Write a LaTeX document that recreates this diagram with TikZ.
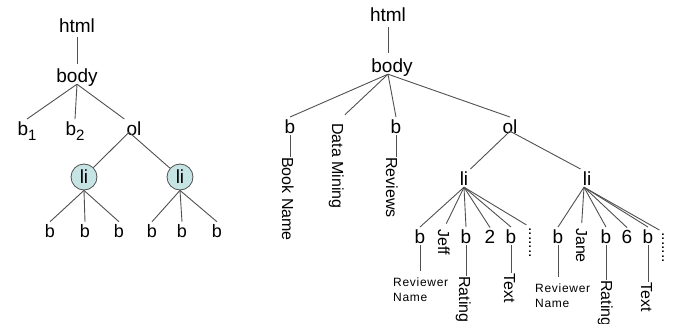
\documentclass[tikz,border=0pt]{standalone}
\usepackage{fontspec}
\setmainfont{Liberation Sans}
\definecolor{licol}{RGB}{198,228,228}
\definecolor{edgecol}{RGB}{80,80,80}
\newcommand\mysubs[1]{\raisebox{-5pt}{\fontsize{15}{15}\selectfont #1}}
\begin{document}
\begin{tikzpicture}[x=1pt,y=-1pt,
  lbl/.style={font=\fontsize{19}{22}\selectfont, inner sep=2pt, text depth=0pt, anchor=base},
  lbls/.style={font=\fontsize{18}{21}\selectfont, inner sep=2pt, text depth=0pt, anchor=base},
  vlbl/.style={font=\fontsize{16}{19}\selectfont, rotate=-90, inner sep=0pt, anchor=base west},
  small/.style={font=\fontsize{12}{15}\selectfont\addfontfeature{LetterSpace=6}, align=left, inner sep=0pt, anchor=north west},
  licirc/.style={circle, draw=edgecol, fill=licol, minimum size=26pt, inner sep=0pt, line width=0.8pt, font=\fontsize{19}{22}\selectfont},
  edge/.style={draw=edgecol, line width=0.9pt}]
\useasboundingbox (0,0) rectangle (673,324);

% ---------- left tree ----------
\node[lbl] (htmlL) at (77,32) {html};
\node[lbl] (bodyL) at (77,82) {body};
\node[lbl] (b1L) at (27,135) {b\mysubs{1}};
\node[lbl] (b2L) at (75,135) {b\mysubs{2}};
\node[lbl] (olL) at (134,135) {ol};
\node[licirc] (li1L) at (84,177) {li};
\node[licirc] (li2L) at (180,177) {li};
\node[lbls] (lb1) at (50,237) {b};
\node[lbls] (lb2) at (85,237) {b};
\node[lbls] (lb3) at (119,237) {b};
\node[lbls] (lb4) at (152,237) {b};
\node[lbls] (lb5) at (182,237) {b};
\node[lbls] (lb6) at (217,237) {b};

\draw[edge, shorten <=3pt, shorten >=2pt] (htmlL.south) -- (bodyL.north);
\draw[edge] (bodyL.south) -- (b1L.north);
\draw[edge] (bodyL.south) -- (b2L.north);
\draw[edge] (bodyL.south) -- (olL.north west);
\draw[edge] ([xshift=-5pt,yshift=5pt]olL.south) -- (li1L);
\draw[edge] ([xshift=-5pt,yshift=5pt]olL.south) -- (li2L);
\foreach \c in {lb1,lb2,lb3} \draw[edge] (li1L.south) -- (\c.north);
\foreach \c in {lb4,lb5,lb6} \draw[edge] (li2L.south) -- (\c.north);

% ---------- right tree ----------
\node[lbl] (htmlR) at (388,21) {html};
\node[lbl] (bodyR) at (392,72) {body};
\node[lbl] (b1R) at (290,133) {b};
\node[vlbl] (bookname) at (282,157) {Book Name};
\node[vlbl] (dm) at (332,123) {Data Mining};
\node[lbl] (b2R) at (396,133) {b};
\node[vlbl] (rev) at (386,157) {Reviews};
\node[lbl] (olR) at (510,133) {ol};

\draw[edge, shorten <=4pt, shorten >=3pt] (htmlR.south) -- (htmlR.south |- bodyR.north);
\draw[edge] ([xshift=-4pt]bodyR.south) -- (b1R.north);
\draw[edge, shorten >=12pt] ([xshift=-4pt]bodyR.south) -- (dm.west);
\draw[edge] ([xshift=-4pt]bodyR.south) -- (b2R.north);
\draw[edge] ([xshift=-4pt]bodyR.south) -- (olR.north);
\draw[edge] (b1R.south) -- (b1R.south |- bookname.west);
\draw[edge] (b2R.south) -- (b2R.south |- rev.west);

\node[lbl] (li1R) at (464,185) {li};
\node[lbl] (li2R) at (587,185) {li};
\draw[edge] ([yshift=4pt]olR.south) -- (li1R.north east);
\draw[edge] ([yshift=4pt]olR.south) -- (li2R.north west);

% li 1 children
\node[lbl] (rb1) at (420,243) {b};
\node[vlbl] (jeff) at (438,229) {Jeff};
\node[lbl] (rat1b) at (466,243) {b};
\node[lbl] (two) at (490,243) {2};
\node[lbl] (txt1b) at (511,243) {b};
\node[vlbl] (dots1) at (529,227) {.......};
\node[small] (rn1) at (393,278) {Reviewer\\Name};
\node[vlbl] (rat1) at (459,276) {Rating};
\node[vlbl] (txt1) at (504,273) {Text};

\draw[edge] (li1R.south) -- (rb1.north);
\draw[edge, shorten >=6pt] (li1R.south) -- (jeff.west);
\draw[edge] (li1R.south) -- (rat1b.north);
\draw[edge] (li1R.south) -- (two.north);
\draw[edge] (li1R.south) -- (txt1b.north);
\draw[edge, shorten >=4pt] (li1R.south) -- (dots1.west);
\draw[edge, shorten >=7pt] (rb1.south) -- (rb1.south |- rn1.north);
\draw[edge] (rat1b.south) -- (rat1b.south |- rat1.west);
\draw[edge] (txt1b.south) -- (txt1b.south |- txt1.west);

% li 2 children
\node[lbl] (rb2) at (558,243) {b};
\node[vlbl] (jane) at (576,228) {Jane};
\node[lbl] (rat2b) at (606,243) {b};
\node[lbl] (six) at (627,243) {6};
\node[lbl] (txt2b) at (648,243) {b};
\node[vlbl] (dots2) at (662,232) {.......};
\node[small] (rn2) at (535,284) {Reviewer\\Name};
\node[vlbl] (rat2) at (601,280) {Rating};
\node[vlbl] (txt2) at (641,282) {Text};

\draw[edge] ([xshift=-3pt]li2R.south) -- (rb2.north);
\draw[edge, shorten >=5pt] ([xshift=-3pt]li2R.south) -- (jane.west);
\draw[edge] ([xshift=-3pt]li2R.south) -- (rat2b.north);
\draw[edge] ([xshift=-3pt]li2R.south) -- (six.north);
\draw[edge] ([xshift=-3pt]li2R.south) -- (txt2b.north);
\draw[edge, shorten >=4pt] ([xshift=-3pt]li2R.south) -- (dots2.west);
\draw[edge, shorten >=7pt] (rb2.south) -- (rb2.south |- rn2.north);
\draw[edge] (rat2b.south) -- (rat2b.south |- rat2.west);
\draw[edge] (txt2b.south) -- (txt2b.south |- txt2.west);
\end{tikzpicture}
\end{document}
